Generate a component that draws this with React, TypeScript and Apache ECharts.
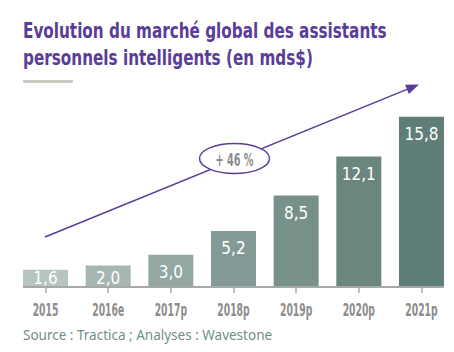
import React, { useEffect, useRef } from "react";
import * as echarts from "echarts";

const categories = ["2015", "2016e", "2017p", "2018p", "2019p", "2020p", "2021p"];
const values = [1.6, 2.0, 3.0, 5.2, 8.5, 12.1, 15.8];
const barColors = ["#b5c3c1", "#a5b6b3", "#93a7a3", "#849a96", "#779089", "#6a867f", "#5f7e77"];
const titleLines = ["Evolution du marché global des assistants", "personnels intelligents (en mds$)"];
const growthLabel = "+ 46 %";
const sourceText = "Source : Tractica ; Analyses : Wavestone";

const PURPLE = "#5a3d98";
const NARROW = "'DejaVu Sans Condensed', sans-serif";

export default function App() {
  const ref = useRef<HTMLDivElement>(null);
  useEffect(() => {
    if (!ref.current) return;
    const chart = echarts.init(ref.current, null, { renderer: "svg" });
    const data = values.map((v, i) => ({
      value: v,
      itemStyle: { color: barColors[i] },
      label: i < 2 ? { position: "insideBottom", distance: 1 } : undefined,
    }));
    chart.setOption({
      animation: false,
      backgroundColor: "#ffffff",
      grid: { left: 14.2, right: 1.2, top: 93, bottom: 65, containLabel: false },
      xAxis: {
        type: "category",
        data: categories,
        axisLine: { show: false },
        axisTick: { show: true, alignWithLabel: true, length: 6, lineStyle: { color: "#a8a8a8", width: 1.5 } },
        axisLabel: { show: false },
      },
      yAxis: { type: "value", min: 0, max: 18, show: false, splitLine: { show: false } },
      series: [
        {
          type: "bar",
          data,
          barWidth: 45,
          z: 3,
          label: {
            show: true,
            position: "insideTop",
            distance: 9,
            color: "#ffffff",
            fontFamily: NARROW,
            fontSize: 17,
            formatter: (p: any) => String(p.value.toFixed(1)).replace(".", ","),
          },
        },
      ],
    });

    // axis labels, positioned through the category scale, drawn narrow like the reference
    const labelTexts = categories.map((c) => {
      const px = chart.convertToPixel({ xAxisIndex: 0 }, c) as number;
      return {
        type: "text",
        x: px,
        y: 309,
        scaleX: 0.57,
        style: {
          text: c,
          fill: "#8c8c8c",
          font: `bold 18px ${NARROW}`,
          align: "center",
          verticalAlign: "middle",
        },
      };
    });

    // arrow geometry
    const tx = 419, ty = 84.5, sx = 45, sy = 237;
    const dx = tx - sx, dy = ty - sy;
    const len = Math.sqrt(dx * dx + dy * dy);
    const ux = dx / len, uy = dy / len;
    const nx = -uy, ny = ux;
    const bx = tx - 13 * ux, by = ty - 13 * uy;

    chart.setOption({
      graphic: [
        {
          type: "text",
          x: 23,
          y: 17,
          scaleX: 0.77,
          style: {
            text: titleLines.join("\n"),
            fill: PURPLE,
            font: `bold 22px ${NARROW}`,
            lineHeight: 27,
          },
        },
        { type: "rect", shape: { x: 23, y: 80, width: 50, height: 3 }, style: { fill: "#c9c9c1" } },
        { type: "line", shape: { x1: 23, y1: 287, x2: 444, y2: 287 }, style: { stroke: "#a8a8a8", lineWidth: 2 }, z: 10 },
        { type: "line", shape: { x1: sx, y1: sy, x2: bx, y2: by }, style: { stroke: PURPLE, lineWidth: 1.5 }, z: 1 },
        {
          type: "polygon",
          shape: { points: [[tx, ty], [bx + 5 * nx, by + 5 * ny], [bx - 5 * nx, by - 5 * ny]] },
          style: { fill: PURPLE },
          z: 1,
        },
        {
          type: "ellipse",
          shape: { cx: 234.5, cy: 158.5, rx: 35, ry: 15 },
          style: { fill: "#ffffff", stroke: PURPLE, lineWidth: 1.5 },
          z: 2,
        },
        {
          type: "text",
          x: 234.5,
          y: 159,
          scaleX: 0.6,
          z: 3,
          style: {
            text: growthLabel,
            fill: "#8c8c8c",
            font: `bold 18px ${NARROW}`,
            align: "center",
            verticalAlign: "middle",
          },
        },
        ...labelTexts,
        {
          type: "text",
          x: 23,
          y: 328,
          style: { text: sourceText, fill: "#6f8f88", font: "13.5px 'Noto Sans', sans-serif" },
        },
      ],
    });
    return () => chart.dispose();
  }, []);
  return <div ref={ref} style={{ position: "fixed", left: 0, top: 0, width: 454, height: 352 }} />;
}
